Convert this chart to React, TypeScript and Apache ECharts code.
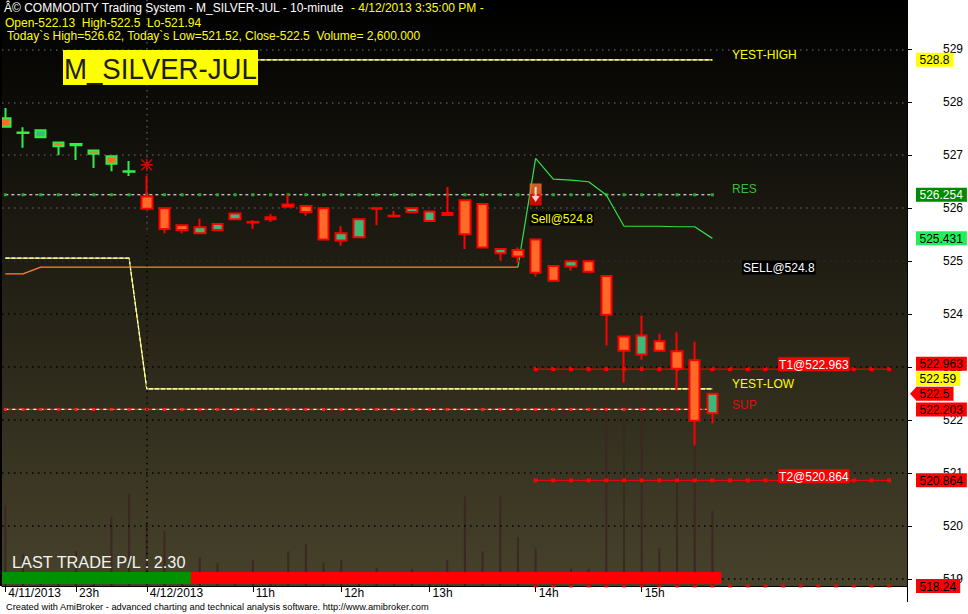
import React, { useEffect, useRef } from 'react';
import * as echarts from 'echarts';

const FONT = '"Liberation Sans", Arial, sans-serif';

// 10-minute bars: [open, close, low, high]
const candles: number[][] = [
  [527.70, 527.54, 527.52, 527.89],
  [527.43, 527.42, 527.14, 527.53],
  [527.34, 527.47, 527.33, 527.48],
  [527.24, 527.17, 527.00, 527.25],
  [527.19, 527.21, 526.91, 527.21],
  [527.09, 527.03, 526.76, 527.09],
  [526.98, 526.84, 526.70, 526.98],
  [526.70, 526.69, 526.61, 526.89],
  [526.22, 525.99, 525.99, 526.61],
  [526.00, 525.61, 525.53, 526.00],
  [525.68, 525.59, 525.53, 525.68],
  [525.53, 525.64, 525.53, 525.80],
  [525.59, 525.70, 525.59, 525.70],
  [525.79, 525.90, 525.79, 525.90],
  [525.74, 525.73, 525.61, 525.78],
  [525.79, 525.83, 525.74, 525.89],
  [526.07, 526.03, 526.03, 526.26],
  [526.04, 525.93, 525.86, 526.04],
  [526.00, 525.41, 525.41, 526.00],
  [525.39, 525.53, 525.29, 525.66],
  [525.45, 525.79, 525.45, 525.79],
  [526.00, 525.99, 525.68, 526.00],
  [525.86, 525.85, 525.85, 525.95],
  [525.93, 526.00, 525.93, 526.02],
  [525.76, 525.94, 525.76, 525.94],
  [525.87, 525.91, 525.87, 526.40],
  [526.15, 525.51, 525.23, 526.15],
  [526.08, 525.26, 525.26, 526.08],
  [525.15, 525.23, 525.01, 525.23],
  [525.21, 525.09, 524.96, 525.26],
  [525.41, 524.78, 524.71, 525.41],
  [524.91, 524.63, 524.63, 524.91],
  [524.90, 525.00, 524.82, 525.00],
  [525.00, 524.80, 524.80, 525.00],
  [524.72, 523.99, 523.41, 524.72],
  [523.58, 523.31, 522.71, 523.58],
  [523.24, 523.60, 523.14, 523.97],
  [523.49, 523.31, 523.31, 523.63],
  [523.30, 522.97, 522.56, 523.66],
  [523.13, 521.99, 521.52, 523.48],
  [522.13, 522.50, 521.94, 522.50],
];

const volumes = [
  2800, 1100, 300, 400, 1200, 300, 2400, 3200, 2200, 1900, 400, 1000, 800, 400,
  900, 400, 1200, 1450, 800, 900, 400, 620, 400, 600, 400, 900, 3100, 1200, 3100,
  1700, 1300, 400, 600, 600, 6600, 6600, 7650, 1300, 3900, 5400, 2600,
];

// trailing stop: below price (orange) then above price (green)
const trailLong = [
  524.76, 524.76, 524.89, 524.89, 524.89, 524.89, 524.89, 524.89, 524.89, 524.89,
  524.89, 524.89, 524.89, 524.89, 524.89, 524.89, 524.89, 524.89, 524.89, 524.89,
  524.89, 524.89, 524.89, 524.89, 524.89, 524.89, 524.89, 524.89, 524.89, 524.89,
];
const trailShortStart = 29;
const trailShort = [524.89, 526.94, 526.55, 526.53, 526.50, 526.25, 525.66, 525.66, 525.66, 525.65, 525.65, 525.431];

// position ribbon: 1 long, -1 short
const positionState = [
  1, 1, 1, 1, 1, 1, 1, 1, 1, 1, 1,
  -1, -1, -1, -1, -1, -1, -1, -1, -1, -1, -1, -1, -1, -1, -1, -1, -1, -1, -1, -1,
  -1, -1, -1, -1, -1, -1, -1, -1, -1, -1,
];

const xTickIdx = [0, 4, 8, 14, 19, 24, 30, 36];
const xTickLabels = ['4/11/2013', '23h', '4/12/2013', '11h', '12h', '13h', '14h', '15h'];
const yTickValues = [519, 520, 521, 522, 523, 524, 525, 526, 527, 528, 529];

const dayStartBar = 8;
const yestHighToday = 528.8;
const yestLowByDay = [525.06, 522.59];
const RES = 526.254;
const SUP = 522.203;
const T1 = 522.963;
const T2 = 520.864;
const SL = 518.24;
const sellPrice = 524.8;
const sellBars = [30];
const starBars = [8];
const targetStartBar = 30;
const targetEndBar = 50;
const lastClose = 522.5;
const greenOutlineUntil = 7;

const Y_MIN = 518.87;
const Y_MAX = 529.93;
const X_MIN = -0.19;
const X_MAX = 51.01;

export default function App() {
  const ref = useRef<HTMLDivElement>(null);

  useEffect(() => {
    document.body.style.margin = '0';
    const el = ref.current!;
    const chart = echarts.init(el, undefined, { renderer: 'svg' });
    const bars = candles.map((_, i) => i);
    const targetBars: number[] = [];
    for (let i = targetStartBar; i <= targetEndBar; i++) targetBars.push(i);

    const bg = new echarts.graphic.LinearGradient(0, 0, 0, 1, [
      { offset: 0, color: '#000000' },
      { offset: 1, color: '#47422b' },
    ]);

    const gridDot = (c: string) => ({ color: c, type: [1.5, 4.5], width: 1.5 });

    const option: any = {
      animation: false,
      backgroundColor: '#ffffff',
      grid: [
        { left: 2, right: 61, top: 0, height: 586, show: true, borderWidth: 0, backgroundColor: bg },
        { left: 2, right: 61, top: 572, height: 12, show: false },
      ],
      xAxis: [
        {
          type: 'value', gridIndex: 0, min: X_MIN, max: X_MAX,
          axisLine: { show: true, onZero: false, lineStyle: { color: '#000', width: 1 } },
          axisTick: { show: true, customValues: xTickIdx, length: 6, lineStyle: { color: '#000' } },
          axisLabel: {
            customValues: xTickIdx,
            formatter: (v: number) => xTickLabels[xTickIdx.indexOf(Math.round(v))] ?? '',
            align: 'left', padding: [0, 0, 0, 3], margin: 1, color: '#000', fontSize: 12, fontFamily: FONT,
          },
          splitLine: { show: false },
        },
        { type: 'value', gridIndex: 1, min: X_MIN, max: X_MAX, show: false },
      ],
      yAxis: [
        {
          type: 'value', gridIndex: 0, position: 'right', min: Y_MIN, max: Y_MAX,
          axisLine: { show: true, onZero: false, lineStyle: { color: '#000', width: 1 } },
          axisTick: { show: true, customValues: yTickValues, length: 5, lineStyle: { color: '#000' } },
          axisLabel: { customValues: yTickValues, align: 'right', margin: 56, color: '#000', fontSize: 12, fontFamily: FONT },
          splitLine: { show: false },
        },
        { type: 'value', gridIndex: 1, min: 0, max: 1, show: false },
        { type: 'value', gridIndex: 0, min: 0, max: 20300, show: false },
      ],
      series: [
        {
          type: 'bar', name: 'vol', xAxisIndex: 0, yAxisIndex: 2, barWidth: 2, silent: true, z: 1,
          data: volumes.map((v, i) => [i, v]),
          itemStyle: { color: '#3a2822' },
        },
        {
          type: 'line', name: 'RES', xAxisIndex: 0, yAxisIndex: 0, z: 2, silent: true,
          data: bars.map((i) => [i, RES]),
          symbol: 'rect', symbolSize: 3, itemStyle: { color: '#1fae2a' },
          lineStyle: { color: '#ffffff', width: 1, type: [3, 3] },
          markLine: {
            silent: true, symbol: ['none', 'none'], label: { show: false },
            data: [
              ...yTickValues.map((v) => ({
                yAxis: v,
                lineStyle: gridDot(v >= 526 ? '#505050' : v >= 525 ? '#2a2a2a' : '#000000'),
              })),
              [
                { coord: [dayStartBar, Y_MAX], lineStyle: gridDot('#505050') },
                { coord: [dayStartBar, 525.5], lineStyle: gridDot('#505050') },
              ],
              [
                { coord: [dayStartBar, 525.5], lineStyle: gridDot('#000000') },
                { coord: [dayStartBar, Y_MIN], lineStyle: gridDot('#000000') },
              ],
            ],
          },
        },
        {
          type: 'line', name: 'SUPbase', z: 2, silent: true, symbol: 'rect', symbolSize: 3,
          itemStyle: { color: '#ff2020' },
          data: bars.map((i) => [i, SUP]),
          lineStyle: { color: '#ff1a1a', width: 1.2 },
        },
        {
          type: 'line', name: 'SUPdash', z: 2, silent: true, symbol: 'none',
          data: bars.map((i) => [i, SUP]),
          lineStyle: { color: '#ffffff', width: 1.2, type: [3, 4] },
        },
        {
          type: 'line', name: 'YLbase', z: 2, silent: true, symbol: 'none',
          data: bars.map((i) => [i, i < dayStartBar ? yestLowByDay[0] : yestLowByDay[1]]),
          lineStyle: { color: '#f0f000', width: 1.2 },
        },
        {
          type: 'line', name: 'YLdash', z: 2, silent: true, symbol: 'none',
          data: bars.map((i) => [i, i < dayStartBar ? yestLowByDay[0] : yestLowByDay[1]]),
          lineStyle: { color: '#ffffff', width: 1.2, type: [4, 2] },
        },
        {
          type: 'line', name: 'YHbase', z: 2, silent: true, symbol: 'none',
          data: bars.filter((i) => i >= dayStartBar).map((i) => [i, yestHighToday]),
          lineStyle: { color: '#f0f000', width: 1.2 },
        },
        {
          type: 'line', name: 'YHdash', z: 2, silent: true, symbol: 'none',
          data: bars.filter((i) => i >= dayStartBar).map((i) => [i, yestHighToday]),
          lineStyle: { color: '#ffffff', width: 1.2, type: [4, 2] },
        },
        {
          type: 'line', name: 'T1', z: 2, silent: true, symbol: 'rect', symbolSize: 4,
          itemStyle: { color: '#ff0000' },
          data: targetBars.map((i) => [i, T1]),
          lineStyle: { color: '#ff0000', width: 1 },
        },
        {
          type: 'line', name: 'T2', z: 2, silent: true, symbol: 'rect', symbolSize: 4,
          itemStyle: { color: '#ff0000' },
          data: targetBars.map((i) => [i, T2]),
          lineStyle: { color: '#ff0000', width: 1 },
        },
        {
          type: 'line', name: 'trailLong', z: 3, silent: true, symbol: 'none',
          data: trailLong.map((v, i) => [i, v]),
          lineStyle: { color: '#ff8040', width: 1.3 },
        },
        {
          type: 'line', name: 'trailShort', z: 3, silent: true, symbol: 'none',
          data: trailShort.map((v, k) => [trailShortStart + k, v]),
          lineStyle: { color: '#2ee24a', width: 1.2 },
        },
        {
          type: 'candlestick', name: 'price', xAxisIndex: 0, yAxisIndex: 0, z: 5, silent: true,
          barWidth: 11,
          data: candles.map((c, i) => {
            const outline = i <= greenOutlineUntil ? '#30ee48' : '#ff0000';
            const fill = c[1] > c[0] ? '#3cb878' : '#ff6a26';
            return {
              value: [i, c[0], c[1], c[2], c[3]],
              itemStyle: {
                color: fill, color0: fill,
                borderColor: outline, borderColor0: outline, borderColorDoji: outline, borderWidth: 2,
              },
            };
          }),
        },
        {
          type: 'scatter', name: 'star', z: 6, silent: true,
          data: starBars.map((i) => [i, candles[i][3]]),
          symbol: 'path://M5.2,0h1.6v12h-1.6z M0,5.2h12v1.6h-12z M1.2,0.1 L11.9,10.8 L10.8,11.9 L0.1,1.2z M10.8,0.1 L11.9,1.2 L1.2,11.9 L0.1,10.8z',
          symbolSize: 12, symbolOffset: [0, -11], itemStyle: { color: '#ff0000' },
        },
        {
          type: 'scatter', name: 'sellBox', z: 6, silent: true,
          data: sellBars.map((i) => [i, candles[i][3]]),
          symbol: 'rect', symbolSize: [12, 22], symbolOffset: [0, -45],
          itemStyle: {
            color: new echarts.graphic.LinearGradient(0, 0, 0, 1, [
              { offset: 0, color: '#ff7030' },
              { offset: 0.45, color: '#ff6420' },
              { offset: 0.5, color: '#ff1000' },
              { offset: 1, color: '#ff0000' },
            ]),
          },
        },
        {
          type: 'scatter', name: 'sellArrow', z: 7, silent: true,
          data: sellBars.map((i) => [i, candles[i][3]]),
          symbol: 'path://M3,0h2v9h3l-4,6l-4,-6h3z', symbolSize: [8, 15], symbolOffset: [0, -45],
          itemStyle: { color: '#ffffff' },
        },
        {
          type: 'scatter', name: 'SL', z: 6, silent: true, clip: false,
          data: targetBars.map((i) => [i, Math.max(SL, Y_MIN)]),
          symbol: 'rect', symbolSize: [4, 3], itemStyle: { color: '#ff0000' },
        },
        {
          type: 'bar', name: 'ribbon', xAxisIndex: 1, yAxisIndex: 1, z: 8, silent: true, barWidth: 18,
          data: positionState.map((s, i) => ({ value: [i, 1], itemStyle: { color: s > 0 ? '#009100' : '#ff0000' } })),
        },
      ],
    };

    chart.setOption(option);

    const ctx = document.createElement('canvas').getContext('2d')!;
    const tw = (t: string, font: string) => { ctx.font = font; return ctx.measureText(t).width; };
    const f12 = `12px ${FONT}`;
    const px = (i: number) => chart.convertToPixel({ xAxisIndex: 0 }, i) as number;
    const py = (v: number) => chart.convertToPixel({ yAxisIndex: 0 }, v) as number;

    const els: any[] = [];
    const text = (x: number, y: number, t: string, fill: string, font = f12, extra: any = {}) => {
      els.push({
        type: 'text', x, y, z: 100, silent: true, ...extra,
        style: { text: t, fill, font, verticalAlign: 'middle', textVerticalAlign: 'middle', align: 'left', textAlign: 'left' },
      });
    };
    const box = (x: number, yc: number, t: string, bgc: string, fg: string, padX = 1, h = 14) => {
      const w = tw(t, f12) + padX * 2;
      els.push({ type: 'rect', z: 100, silent: true, shape: { x, y: yc - h / 2, width: w, height: h }, style: { fill: bgc } });
      text(x + padX, yc + 0.5, t, fg);
    };

    // header
    const h1w = 'Â© COMMODITY Trading System - M_SILVER-JUL - 10-minute ';
    text(4, 8, h1w, '#ffffff');
    text(4 + tw(h1w, f12), 8, ' - 4/12/2013 3:35:00 PM -', '#ffff00');
    text(5, 23, 'Open-522.13  High-522.5  Lo-521.94', '#ffff00');
    text(4, 36, ' Today`s High=526.62, Today`s Low=521.52, Close-522.5  Volume= 2,600.000', '#ffff00');

    // big symbol label
    els.push({ type: 'rect', z: 100, silent: true, shape: { x: 63, y: 50, width: 195, height: 35 }, style: { fill: '#ffff00' } });
    const bigFont = `30px ${FONT}`;
    const bigScale = 193 / tw('M_SILVER-JUL', bigFont);
    text(64, 69, 'M_SILVER-JUL', '#1c1c1c', bigFont, { scaleX: bigScale });

    // in-plot level labels
    const lx = px(41) + 2;
    text(lx, py(yestHighToday) - 5, 'YEST-HIGH', '#ffff00');
    text(lx, py(RES) - 5.5, 'RES', '#3cbc3c');
    text(lx, py(yestLowByDay[1]) - 4.7, 'YEST-LOW', '#ffff00');
    text(lx, py(SUP) - 4.4, 'SUP', '#dd1111');
    box(lx + 10, py(sellPrice) - 4.3, `SELL@${sellPrice}`, '#000000', '#ffffff');
    box(lx + 46, py(T1) - 5, `T1@${T1}`, '#ff0000', '#ffffff');
    box(lx + 46, py(T2) - 4.2, `T2@${T2}`, '#ff0000', '#ffffff');
    sellBars.forEach((i) => {
      box(px(i) - 6, py(candles[i][3]) - 21, `Sell@${sellPrice}`, '#000000', '#ffff00');
    });

    // last trade text
    text(12, 562, 'LAST TRADE P/L : 2.30', '#f2f2f2', `16.3px ${FONT}`);
    text(6, 607, 'Created with AmiBroker - advanced charting and technical analysis software. http://www.amibroker.com', '#000000', `9.25px ${FONT}`);

    // right axis value labels
    const rightLabels = [
      { v: yestHighToday, bg: '#ffff00', fg: '#000000' },
      { v: RES, bg: '#008a00', fg: '#ffffff' },
      { v: trailShort[trailShort.length - 1], bg: '#1ef05a', fg: '#000000' },
      { v: T1, bg: '#ff0000', fg: '#000000' },
      { v: yestLowByDay[1], bg: '#ffff00', fg: '#000000' },
      { v: lastClose, bg: '#ff0000', fg: '#000000', arrow: true },
      { v: SUP, bg: '#ff0000', fg: '#000000' },
      { v: T2, bg: '#ff0000', fg: '#000000' },
      { v: SL, bg: '#ff0000', fg: '#000000' },
    ];
    const plotBottom = py(Y_MIN);
    const sorted = [...rightLabels].sort((a, b) => a.v - b.v);
    let lastY = Infinity;
    sorted.forEach((l) => {
      const natural = Math.min(py(l.v), plotBottom);
      const y = Math.min(natural, lastY - 15);
      lastY = y;
      const t = String(l.v);
      const w = tw(t, f12) + 7.5;
      if ((l as any).arrow) {
        els.push({ type: 'polygon', z: 101, silent: true, shape: { points: [[910, y], [916.5, y - 7], [916.5, y + 7]] }, style: { fill: l.bg } });
      }
      els.push({ type: 'rect', z: 101, silent: true, shape: { x: 916, y: y - 7, width: w, height: 14 }, style: { fill: l.bg } });
      els.push({
        type: 'text', x: 919.5, y: y + 0.5, z: 102, silent: true,
        style: { text: t, fill: l.fg, font: f12, verticalAlign: 'middle', textVerticalAlign: 'middle' },
      });
    });

    // borders
    els.push({ type: 'line', z: 100, silent: true, shape: { x1: 1, y1: 0, x2: 1, y2: plotBottom }, style: { stroke: '#000', lineWidth: 2 } });
    els.push({ type: 'line', z: 100, silent: true, shape: { x1: 907.5, y1: plotBottom, x2: 907.5, y2: 602 }, style: { stroke: '#000', lineWidth: 1 } });

    chart.setOption({ graphic: { elements: els } });

    return () => chart.dispose();
  }, []);

  return (
    <div
      ref={ref}
      style={{ position: 'absolute', left: 0, top: 0, width: 968, height: 614, background: '#ffffff' }}
    />
  );
}
